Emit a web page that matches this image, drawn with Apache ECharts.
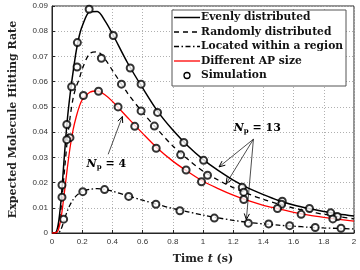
<!DOCTYPE html>
<html><head><meta charset="utf-8">
<script src="https://cdn.jsdelivr.net/npm/echarts@6/dist/echarts.min.js"></script>
<style>html,body{margin:0;padding:0;background:#fff}#c{width:360px;height:270px}</style>
</head><body><div id="c"></div>
<script>
// time grid (s)
const tGrid = [0,0.02,0.04,0.06,0.08,0.1,0.12,0.14,0.16,0.18,0.2,0.25,0.3,0.35,0.4,0.5,0.6,0.7,0.8,0.9,1.0,1.1,1.2,1.3,1.4,1.5,1.6,1.7,1.8,1.9,2.0];
const evenly   = [0,0,0.003,0.013,0.029,0.044,0.055,0.064,0.072,0.078,0.082,0.0877,0.0878,0.0842,0.0790,0.0675,0.0575,0.0482,0.0408,0.0345,0.0292,0.0248,0.0210,0.0178,0.0152,0.0129,0.0111,0.0097,0.0085,0.0075,0.0067];
const randomly = [0,0,0.002,0.010,0.023,0.036,0.046,0.0535,0.058,0.061,0.065,0.0712,0.0718,0.0690,0.0645,0.0555,0.0478,0.0410,0.0345,0.0292,0.0245,0.0210,0.0180,0.0155,0.0133,0.0115,0.0099,0.0086,0.0074,0.0065,0.0056];
const region   = [0,0,0,0.0015,0.005,0.0085,0.0112,0.0132,0.0147,0.0157,0.0164,0.0173,0.0176,0.0173,0.0166,0.0148,0.0130,0.0113,0.0097,0.0084,0.0071,0.0060,0.0050,0.0042,0.0036,0.0031,0.0027,0.0023,0.0020,0.0018,0.0016];
const apSize   = [0,0,0.001,0.006,0.015,0.025,0.034,0.041,0.046,0.050,0.0528,0.0558,0.0563,0.0548,0.0522,0.0458,0.0395,0.0335,0.0285,0.0243,0.0205,0.0176,0.0150,0.0128,0.0110,0.0096,0.0082,0.0071,0.0062,0.0054,0.0047];

// simulation points [t, rate]
const simEvenly = [[0.066,0.019],[0.098,0.043],[0.13,0.058],[0.168,0.0755],[0.246,0.0887],[0.406,0.0783],[0.518,0.0654],[0.59,0.059],[0.699,0.0478],[0.873,0.0359],[1.004,0.0288],[1.26,0.0181],[1.525,0.0126],[1.705,0.0097],[1.846,0.008]];
const simRandom = [[0.066,0.0142],[0.119,0.0378],[0.166,0.0658],[0.327,0.0693],[0.46,0.059],[0.59,0.0484],[0.678,0.0424],[0.852,0.031],[1.03,0.0229],[1.27,0.0162],[1.52,0.0114],[1.89,0.0065]];
const simAP     = [[0.098,0.037],[0.208,0.0545],[0.308,0.0562],[0.4375,0.050],[0.548,0.0423],[0.69,0.0336],[0.888,0.025],[0.99,0.0203],[1.27,0.0133],[1.493,0.0097],[1.65,0.0074],[1.86,0.0056]];
const simRegion = [[0.077,0.0055],[0.204,0.0164],[0.348,0.0172],[0.508,0.0145],[0.688,0.0114],[0.847,0.0088],[1.075,0.0059],[1.30,0.0039],[1.435,0.0036],[1.574,0.0029],[1.743,0.0022],[1.914,0.0019]];

const seriesNames = ['Evenly distributed','Randomly distributed','Located within a region','Different AP size','Simulation'];
const xTicks = {min:0,max:2,interval:0.2};
const yTicks = {min:0,max:0.09,interval:0.01};

// annotation anchors (data coords)
const np4 = {text:[0.36,0.0272], from:[0.372,0.0312], to:[[0.466,0.0462]]};
const np13 = {text:[1.36,0.0415], from:[1.334,0.0372], to:[[1.106,0.0262],[1.153,0.0195],[1.287,0.0053]]};

const serif = 'DejaVu Serif';
const styles = [
  {color:'#000',dash:null,width:1.5},
  {color:'#000',dash:[5,4],width:1.3},
  {color:'#000',dash:[5,2.5,1.5,2.5],width:1.3},
  {color:'#ff0000',dash:null,width:1.3}
];
const zip = (a,b)=>a.map((v,i)=>[v,b[i]]);
const chart = echarts.init(document.getElementById('c'),null,{renderer:'canvas'});
const lineSeries = (i,data)=>({name:seriesNames[i],type:'line',data:zip(tGrid,data),smooth:0.3,showSymbol:false,symbol:'none',
  lineStyle:{color:styles[i].color,width:styles[i].width,type:styles[i].dash||'solid'},itemStyle:{color:styles[i].color},z:3});
chart.setOption({
  animation:false,
  grid:{left:40,right:6,top:6,bottom:31.5,show:true,borderColor:'#262626',borderWidth:1},
  xAxis:{type:'value',min:xTicks.min,max:xTicks.max,interval:xTicks.interval,
    name:'{b|Time }{i|t}{b| (s)}',nameLocation:'middle',nameGap:21,
    nameTextStyle:{rich:{b:{fontFamily:serif,fontWeight:'bold',fontSize:11,color:'#222'},i:{fontFamily:serif,fontWeight:'bold',fontStyle:'italic',fontSize:11,color:'#222'}}},
    axisLine:{show:true,lineStyle:{color:'#262626'}},axisTick:{inside:true,length:3,lineStyle:{color:'#262626'}},
    axisLabel:{fontSize:8,color:'#333',margin:5,fontFamily:'Liberation Sans'},
    splitLine:{show:true,lineStyle:{color:'#b0b0b0',type:[1,2],width:1}}},
  yAxis:{type:'value',min:yTicks.min,max:yTicks.max,interval:yTicks.interval,
    name:'Expected Molecule Hitting Rate',nameLocation:'middle',nameGap:33,
    nameTextStyle:{fontFamily:serif,fontWeight:'bold',fontSize:11,color:'#222'},
    axisLine:{show:true,lineStyle:{color:'#262626'}},axisTick:{inside:true,length:3,lineStyle:{color:'#262626'}},
    axisLabel:{fontSize:8,color:'#333',margin:4,fontFamily:'Liberation Sans'},
    splitLine:{show:true,lineStyle:{color:'#b0b0b0',type:[1,2],width:1}}},
  series:[
    lineSeries(0,evenly),
    lineSeries(1,randomly),
    lineSeries(2,region),
    lineSeries(3,apSize),
    {name:seriesNames[4],type:'scatter',data:[].concat(simEvenly,simRandom,simAP,simRegion),symbol:'emptyCircle',symbolSize:7,
      itemStyle:{color:'#000',borderColor:'#000',borderWidth:1.3},z:4}
  ]
});
function px(p){return chart.convertToPixel({gridIndex:0},p);}
function arrow(from,to){
  const a=px(from),b=px(to);const dx=b[0]-a[0],dy=b[1]-a[1];const L=Math.hypot(dx,dy);const ux=dx/L,uy=dy/L;
  const h=6,w=2.6;
  return [{type:'line',shape:{x1:a[0],y1:a[1],x2:b[0],y2:b[1]},style:{stroke:'#000',lineWidth:0.7},z:10},
    {type:'polyline',shape:{points:[[b[0]-ux*h-uy*w,b[1]-uy*h+ux*w],[b[0],b[1]],[b[0]-ux*h+uy*w,b[1]-uy*h-ux*w]]},style:{stroke:'#000',fill:null,lineWidth:1},z:10}];
}
function label(ann,num){
  const p=px(ann.text);
  return {type:'text',x:p[0],y:p[1],z:10,style:{text:'{i|N}{s|p}{b| = '+num+'}',align:'center',verticalAlign:'middle',
    rich:{i:{fontFamily:serif,fontStyle:'italic',fontWeight:'bold',fontSize:11,fill:'#000'},
          s:{fontFamily:serif,fontWeight:'bold',fontSize:7,fill:'#000',padding:[6,0,0,0]},
          b:{fontFamily:serif,fontWeight:'bold',fontSize:11,fill:'#000'}}}};
}
const g=[];
np4.to.forEach(t=>g.push(...arrow(np4.from,t)));
np13.to.forEach(t=>g.push(...arrow(np13.from,t)));
g.push(label(np4,4),label(np13,13));
// legend box
const lg={x:172,y:10,w:174,h:76,rowY:[17.5,32,46.5,61,75.5],lineX:[174,200],textX:201};
g.push({type:'rect',shape:{x:lg.x,y:lg.y,width:lg.w,height:lg.h},style:{fill:'#fff',stroke:'#555',lineWidth:1},z:20});
seriesNames.forEach((n,i)=>{
  const y=lg.rowY[i];
  if(i<4){
    g.push({type:'line',shape:{x1:lg.lineX[0],y1:y,x2:lg.lineX[1],y2:y},style:{stroke:styles[i].color,lineWidth:styles[i].width,lineDash:styles[i].dash},z:21});
  } else {
    g.push({type:'circle',shape:{cx:187,cy:y,r:3},style:{fill:'#fff',stroke:'#000',lineWidth:1.3},z:21});
  }
  g.push({type:'text',x:lg.textX,y:y,z:21,style:{text:n,fontFamily:serif,fontWeight:'bold',fontSize:10.7,fill:'#111',align:'left',verticalAlign:'middle'}});
});
chart.setOption({graphic:g});
</script></body></html>
